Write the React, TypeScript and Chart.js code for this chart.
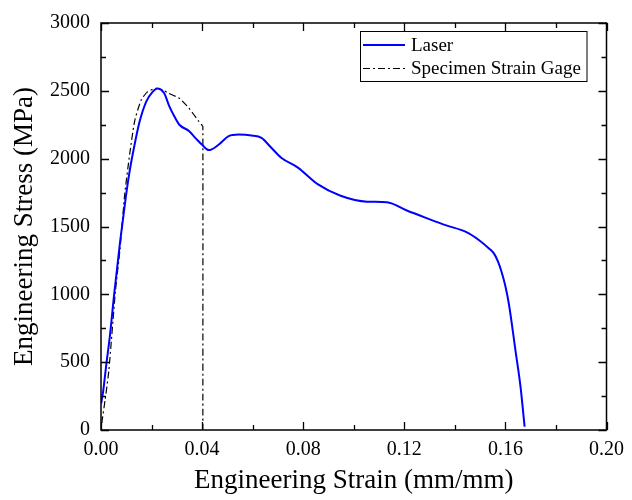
import React, { useEffect, useRef } from "react";
import { Chart, registerables } from "chart.js";

Chart.register(...registerables);

const laserStrain = [0.0001, 0.0009, 0.0022, 0.0035, 0.0052, 0.0075, 0.0098, 0.01135, 0.0133, 0.0153, 0.0179, 0.0205, 0.0222, 0.025, 0.027, 0.029, 0.031, 0.0348, 0.0375, 0.0399, 0.0427, 0.0466, 0.0505, 0.0544, 0.0596, 0.0635, 0.0674, 0.0713, 0.0779, 0.0857, 0.0948, 0.1053, 0.1131, 0.121, 0.1288, 0.1366, 0.1444, 0.1496, 0.1535, 0.1555, 0.157, 0.1585, 0.16, 0.1614, 0.164, 0.166, 0.1676];
const laserStress = [197, 292, 498, 690, 1000, 1380, 1715, 1910, 2104, 2275, 2421, 2494, 2518, 2482, 2387, 2312, 2250, 2204, 2150, 2104, 2063, 2104, 2166, 2178, 2171, 2153, 2080, 2007, 1934, 1812, 1727, 1683, 1679, 1618, 1562, 1508, 1460, 1399, 1338, 1300, 1245, 1165, 1060, 927, 584, 316, 24];

const gageStrain = [0.0003, 0.0016, 0.0031, 0.0057, 0.0075, 0.0094, 0.01135, 0.0133, 0.0159, 0.0185, 0.0218, 0.0244, 0.0267, 0.031, 0.0348, 0.0387, 0.0400, 0.0403, 0.0403];
const gageStress = [50, 219, 438, 1022, 1330, 1740, 2033, 2275, 2433, 2494, 2518, 2506, 2482, 2445, 2372, 2275, 2245, 2238, 0];

const seriesNames = ["Laser", "Specimen Strain Gage"];
const xTicks = [0, 0.04, 0.08, 0.12, 0.16, 0.2];
const yTicks = [0, 500, 1000, 1500, 2000, 2500, 3000];

const FONT = "'Liberation Serif', 'Times New Roman', serif";

const framePlugin = {
  id: "frame",
  afterDraw(chart: any) {
    const { ctx, chartArea: a, scales } = chart;
    const xs = scales.x, ys = scales.y;
    ctx.save();
    ctx.strokeStyle = "#000";
    ctx.lineWidth = 1.5;
    ctx.strokeRect(a.left, a.top, a.right - a.left, a.bottom - a.top);
    ctx.lineWidth = 1.3;
    ctx.beginPath();
    for (let v = 0; v <= 0.2001; v += 0.02) {
      const major = Math.round(v * 100) % 4 === 0;
      const len = major ? 8 : 5;
      const px = Math.round(xs.getPixelForValue(v)) + 0.5;
      ctx.moveTo(px, a.bottom); ctx.lineTo(px, a.bottom - len);
      ctx.moveTo(px, a.top); ctx.lineTo(px, a.top + len);
    }
    for (let v = 0; v <= 3000; v += 250) {
      const major = v % 500 === 0;
      const len = major ? 8 : 5;
      const py = Math.round(ys.getPixelForValue(v)) + 0.5;
      ctx.moveTo(a.left, py); ctx.lineTo(a.left + len, py);
      ctx.moveTo(a.right, py); ctx.lineTo(a.right - len, py);
    }
    ctx.stroke();

    // legend
    const lx = 360, ly = 31.5, lw = 226.5, lh = 50;
    ctx.fillStyle = "#fff";
    ctx.fillRect(lx, ly, lw, lh);
    ctx.lineWidth = 1;
    ctx.strokeStyle = "#000";
    ctx.strokeRect(lx + 0.5, ly, lw, lh);
    const ds = chart.data.datasets;
    const rows = [45, 68.5];
    ds.forEach((d: any, i: number) => {
      ctx.save();
      ctx.strokeStyle = d.borderColor;
      ctx.lineWidth = d.borderWidth;
      ctx.setLineDash(d.borderDash || []);
      ctx.beginPath();
      ctx.moveTo(363, rows[i]);
      ctx.lineTo(405, rows[i]);
      ctx.stroke();
      ctx.restore();
      ctx.fillStyle = "#000";
      ctx.font = `19px ${FONT}`;
      ctx.textBaseline = "middle";
      ctx.textAlign = "left";
      ctx.fillText(d.label, 411, rows[i] + 1);
    });
    ctx.restore();
  },
};

export default function App() {
  const ref = useRef<HTMLCanvasElement>(null);
  useEffect(() => {
    const chart = new Chart(ref.current!, {
      type: "scatter",
      data: {
        datasets: [
          {
            label: seriesNames[0],
            data: laserStrain.map((x, i) => ({ x, y: laserStress[i] })),
            showLine: true,
            borderColor: "#0000ff",
            backgroundColor: "#0000ff",
            borderWidth: 2,
            pointRadius: 0,
            cubicInterpolationMode: "monotone",
          },
          {
            label: seriesNames[1],
            data: gageStrain.map((x, i) => ({ x, y: gageStress[i] })),
            showLine: true,
            borderColor: "#000",
            backgroundColor: "#000",
            borderWidth: 1.2,
            borderDash: [7, 3, 2, 3],
            pointRadius: 0,
            tension: 0.2,
          },
        ],
      },
      options: {
        animation: false,
        responsive: true,
        maintainAspectRatio: false,
        layout: { padding: { top: 19, right: 20, left: 0, bottom: 0 } },
        plugins: { legend: { display: false }, tooltip: { enabled: false } },
        scales: {
          x: {
            type: "linear",
            min: 0,
            max: 0.2,
            afterBuildTicks: (s: any) => { s.ticks = xTicks.map((v) => ({ value: v })); },
            afterFit: (s: any) => { s.height = 70; },
            ticks: {
              callback: (v: any) => Number(v).toFixed(2),
              color: "#000",
              font: { family: FONT, size: 20 },
              padding: 8,
              maxRotation: 0,
            },
            grid: { display: false, drawTicks: false },
            border: { display: false },
            title: {
              display: true,
              text: "Engineering Strain (mm/mm)",
              color: "#000",
              font: { family: FONT, size: 27 },
              padding: { top: 0, bottom: 3 },
            },
          },
          y: {
            type: "linear",
            min: 0,
            max: 3000,
            afterBuildTicks: (s: any) => { s.ticks = yTicks.map((v) => ({ value: v })); },
            afterFit: (s: any) => { s.width = 101; },
            ticks: {
              callback: (v: any) => String(v),
              color: "#000",
              font: { family: FONT, size: 20 },
              padding: 11,
            },
            grid: { display: false, drawTicks: false },
            border: { display: false },
            title: {
              display: true,
              text: "Engineering Stress (MPa)",
              color: "#000",
              font: { family: FONT, size: 27 },
              padding: { top: 9, bottom: 0 },
            },
          },
        },
      },
      plugins: [framePlugin],
    });
    return () => chart.destroy();
  }, []);
  return (
    <div style={{ position: "absolute", left: 0, top: 0, width: 632, height: 500, background: "#fff" }}>
      <canvas ref={ref} />
    </div>
  );
}
